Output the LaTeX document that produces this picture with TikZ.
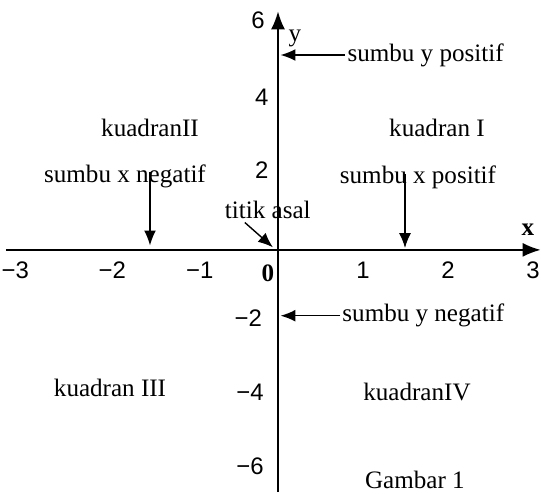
\documentclass[tikz,border=0pt]{standalone}
\usepackage{fontspec}
\setmainfont{Liberation Serif}
\newfontfamily\ticksf{Liberation Sans}
\usetikzlibrary{arrows.meta}
\tikzset{
    lbl/.style={font=\fontsize{12.6}{15}\selectfont, inner sep=1pt},
    tick/.style={font=\ticksf\fontsize{12}{14}\selectfont, inner sep=1pt},
    pointer/.style={-{Latex[length=7.5pt,width=6pt]}, line width=0.7pt},
    axis/.style={-{Latex[length=9pt,width=7pt]}, line width=0.9pt}
}
\begin{document}
\begin{tikzpicture}[x=1.5cm, y=0.6526cm]
    \useasboundingbox (-3.2706,-6.595) rectangle (3.094,6.757);
    \coordinate (xl) at (-3.2,0);
    \coordinate (xr) at (3.09,0);
    \coordinate (yb) at (0,-6.55);
    \coordinate (yt) at (0,6.45);
    \draw[axis] (xl) -- (xr);
    \draw[axis] (yb) -- (yt);
    \node[tick] (xm3) at (-3.09,-0.55) {−3};
    \node[tick] (xm2) at (-1.95,-0.55) {−2};
    \node[tick] (xm1) at (-0.92,-0.55) {−1};
    \node[lbl] (x0) at (-0.12,-0.62) {\textbf{0}};
    \node[tick] (x1) at (1,-0.55) {1};
    \node[tick] (x2) at (2,-0.55) {2};
    \node[tick] (x3) at (3,-0.55) {3};
    \node[tick] (y6) at (-0.235,6.22) {6};
    \node[tick] (y4) at (-0.19,4.14) {4};
    \node[tick] (y2) at (-0.19,2.16) {2};
    \node[tick] (ym2) at (-0.35,-1.84) {−2};
    \node[tick] (ym4) at (-0.33,-3.84) {−4};
    \node[tick] (ym6) at (-0.33,-5.86) {−6};
    \node[lbl] (ylab) at (0.2,5.73) {y};
    \node[lbl] (xlab) at (2.94,0.54) {\textbf{x}};
    % kuadran
    \node[lbl] (q1) at (1.87,3.30) {kuadran I};
    \node[lbl] (q2) at (-1.506,3.30) {kuadranII};
    \node[lbl] (q3) at (-1.976,-3.73) {kuadran III};
    \node[lbl] (q4) at (1.635,-3.84) {kuadranIV};
    % penunjuk
    \node[lbl, anchor=west] (ypos) at (0.79,5.27) {sumbu y positif};
    \coordinate (ypostip) at (0.03,5.27);
    \draw[pointer] (ypos.west) -- (ypostip);
    \node[lbl, anchor=west] (yneg) at (0.73,-1.78) {sumbu y negatif};
    \coordinate (ynegtip) at (0.03,-1.78);
    \draw[pointer] (yneg.west) -- (ynegtip);
    \node[lbl] (xneg) at (-1.8,2.0) {sumbu x negatif};
    \coordinate (xnegs) at (-1.506,2.1);
    \coordinate (xnegtip) at (-1.506,0.12);
    \draw[pointer] (xnegs) -- (xnegtip);
    \node[lbl] (xpos) at (1.647,1.95) {sumbu x positif};
    \coordinate (xposs) at (1.494,2.05);
    \coordinate (xpostip) at (1.494,0.05);
    \draw[pointer] (xposs) -- (xpostip);
    \node[lbl] (asal) at (-0.12,1.08) {titik asal};
    \coordinate (asals) at (-0.39,0.74);
    \coordinate (asaltip) at (-0.06,0.07);
    \draw[pointer] (asals) -- (asaltip);
    \node[lbl] (gbr) at (1.61,-6.22) {Gambar 1};
\end{tikzpicture}
\end{document}
